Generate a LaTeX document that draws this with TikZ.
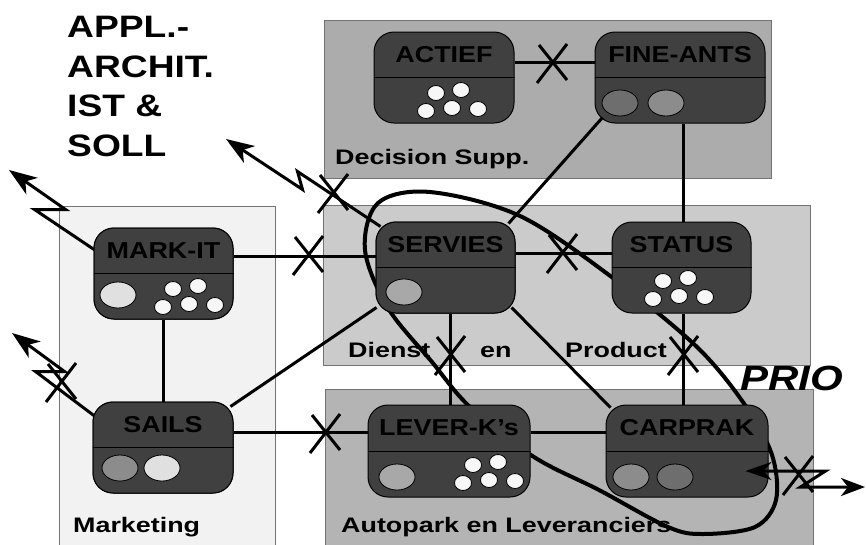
\documentclass[tikz,border=0pt]{standalone}
\usepackage{fontspec}
\setmainfont{Liberation Sans}
\newfontfamily\boxfont{Liberation Sans}[FakeStretch=1.17]
\newfontfamily\areafont{Liberation Sans}[FakeStretch=1.28]
\newfontfamily\headfont{Liberation Sans}[FakeStretch=1.2]
\usetikzlibrary{arrows.meta,fit,calc}

\definecolor{nodegray}{HTML}{404040}
\definecolor{dsgray}{HTML}{ACACAC}
\definecolor{dpgray}{HTML}{CBCBCB}
\definecolor{apgray}{HTML}{B4B4B4}
\definecolor{mkgray}{HTML}{F2F2F2}
\definecolor{blobdark}{HTML}{6E6E6E}
\definecolor{blobmid}{HTML}{8C8C8C}
\definecolor{bloblight}{HTML}{A8A8A8}
\definecolor{blobpale}{HTML}{E0E0E0}

% application block: name, left, top, right, bottom, label
\newcommand\appnode[6]{%
  \node[appbox, fit={(#2,#3) (#4,#5)}] (#1) {};
  \draw[line width=0.8pt] (#1.west) -- (#1.east);
  \node[boxlabel] (#1-lbl) at ($(#1.north)!0.5!(#1.center)$) {#6};
}
% crossed-out interface mark
\newcommand\xcut[2]{%
  \draw[conn, shift={(#1,#2)}] (-15,20) -- (15,-19) (-13,-18) -- (15,17);
}
% coloured data store inside a block
\newcommand\blobat[3]{%
  \draw[blob, fill=#3] (#1,#2) ellipse [x radius=18pt, y radius=13pt];
}

\begin{document}
\begin{tikzpicture}[x=1pt,y=-1pt,
  region/.style={draw=black!55, line width=0.8pt},
  appbox/.style={draw=black, line width=1pt, fill=nodegray, rounded corners=20pt, inner sep=0pt},
  boxlabel/.style={font=\boxfont\bfseries\fontsize{23}{26}\selectfont, inner sep=0pt, text=black},
  arealabel/.style={font=\areafont\bfseries\fontsize{21}{24}\selectfont, inner sep=0pt, anchor=base west},
  conn/.style={line width=3pt},
  tip/.style={Stealth[length=28pt, width=20pt, inset=8pt]},
  bolt/.style={line width=3pt, -{Stealth[length=28pt, width=20pt, inset=8pt]}},
  ring/.style={line width=4pt},
  blob/.style={draw=black, line width=0.8pt},
  whitedot/.style={draw=black, line width=0.8pt, fill=white!97!black},
  cluster/.pic={
    \foreach \dx/\dy in {0/0, 25/-3, -10/18, 16/15, 42/16}
      \draw[whitedot] (\dx,\dy) ellipse [x radius=8.5pt, y radius=7.5pt];
  },
]
\useasboundingbox (0,0) rectangle (866,544);
\clip (0,0) rectangle (866,544);

% domains
\path[region, fill=dsgray] (324,20) rectangle (771,178);
\path[region, fill=dpgray] (323,205) rectangle (810,365);
\path[region, fill=apgray] (325,389) rectangle (813,550);
\path[region, fill=mkgray] (59,206) rectangle (275,550);

\node[arealabel] (lbl-ds) at (335,164) {Decision Supp.};
\node[arealabel] (lbl-dienst) at (348,357) {Dienst};
\node[arealabel] (lbl-en) at (480,357) {en};
\node[arealabel] (lbl-product) at (565,357) {Product};
\node[arealabel] (lbl-mkt) at (73,532) {Marketing};
\node[arealabel] (lbl-auto) at (341,532) {Autopark en Leveranciers};

% priority loop
\draw[ring] plot[smooth cycle, tension=0.55] coordinates {
  (430,192) (520,216) (613,278) (697,347) (745,405) (772,455)
  (776,500) (755,527) (703,534) (668,527) (599,490) (534,457)
  (470,407) (432,362) (388,308) (365,250) (378,203)};

% blocks
\appnode{actief}{374}{32}{514}{123}{ACTIEF}
\appnode{fineants}{595}{32}{765}{123}{FINE-ANTS}
\appnode{servies}{376}{222}{515}{313}{SERVIES}
\appnode{status}{612}{222}{751}{313}{STATUS}
\appnode{markit}{94}{228}{233}{319}{MARK-IT}
\appnode{sails}{93}{402}{233}{493}{SAILS}
\appnode{lever}{368}{405}{530}{497}{LEVER-K’s}
\appnode{carprak}{606}{405}{768}{497}{CARPRAK}

% interfaces
\draw[conn] ([yshift=15pt]actief.east) -- ([yshift=15pt]actief.east -| fineants.west);
\draw[conn] ([xshift=8pt,yshift=6pt]fineants.south west) -- ([xshift=-7pt,yshift=-2pt]servies.north east);
\draw[conn] ([xshift=3pt]fineants.south) -- ([xshift=3pt]fineants.south |- status.north);
\draw[conn] ([yshift=14.5pt]servies.east) -- ([yshift=14.5pt]servies.east -| status.west);
\draw[conn] ([yshift=17.5pt]markit.east) -- ([yshift=17.5pt]markit.east -| servies.west);
\draw[conn] (markit.south) -- (markit.south |- sails.north);
\draw[conn] ([xshift=-3pt,yshift=-5pt]sails.north east) -- ([xshift=1pt,yshift=6pt]servies.south west);
\draw[conn] ([yshift=15.5pt]sails.east) -- ([yshift=15.5pt]sails.east -| lever.west);
\draw[conn] ([yshift=19pt]lever.east) -- ([yshift=19pt]lever.east -| carprak.west);
\draw[conn] ([xshift=4.5pt]servies.south) -- ([xshift=4.5pt]servies.south |- lever.north);
\draw[conn] ([xshift=-4pt,yshift=6pt]servies.south east) -- ([xshift=5pt,yshift=-3pt]carprak.north west);
\draw[conn] ([xshift=1.5pt]status.south) -- ([xshift=1.5pt]status.south |- carprak.north);

% external links
\coordinate (markit-out) at (9,170);
\coordinate (servies-out) at (226,139);
\coordinate (sails-out) at (12,333);
\coordinate (carprak-out) at (865,487);
\draw[bolt] ([xshift=5pt,yshift=-25pt]markit.north west) -- ++(-64,-43) -- ++(31,0) -- (markit-out);
\draw[bolt] ([xshift=5pt,yshift=-5pt]servies.north west) -- ++(-83,-55) -- ++(5,18) -- (servies-out);
\draw[bolt] ([xshift=4pt,yshift=-16pt]sails.north west) -- ++(-61,-46) -- ++(29,0) -- (sails-out);

% redraw blocks over the link ends
\appnode{servies}{376}{222}{515}{313}{SERVIES}
\appnode{markit}{94}{228}{233}{319}{MARK-IT}
\appnode{sails}{93}{402}{233}{493}{SAILS}

% data stores
\pic at (436,93) {cluster};
\blobat{620}{103}{blobdark}
\blobat{666}{103}{blobmid}
\blobat{404}{292}{bloblight}
\pic at (663,281) {cluster};
\blobat{118}{295}{blobpale}
\pic at (173,289) {cluster};
\blobat{120}{468}{blobmid}
\blobat{162}{468}{blobpale}
\blobat{397}{477}{bloblight}
\pic at (473,465) {cluster};
\blobat{631}{477}{blobmid}
\blobat{675}{477}{blobdark}

\draw[conn, {Stealth[length=26pt, width=18pt, inset=8pt]}-{Stealth[length=24pt, width=18pt, inset=7pt]}]
  ([xshift=-23pt,yshift=-20pt]carprak.east) -- ++(80,0) -- ++(-25,16) -- (carprak-out);

% cut interfaces
\xcut{552}{63}
\xcut{562}{253}
\xcut{308}{255}
\xcut{325}{433}
\xcut{450}{355}
\xcut{683}{355}
\xcut{333}{193}
\xcut{61}{382}
\xcut{798}{475}

\node[font=\headfont\bfseries\fontsize{31}{39.5}\selectfont, align=left, inner sep=0pt, anchor=base west] (title) at (67,156) {APPL.-\\ARCHIT.\\IST \&\\SOLL};
\node[font=\headfont\bfseries\itshape\fontsize{35}{40}\selectfont, inner sep=0pt, anchor=base west] (prio) at (740,390) {PRIO};
\end{tikzpicture}
\end{document}
